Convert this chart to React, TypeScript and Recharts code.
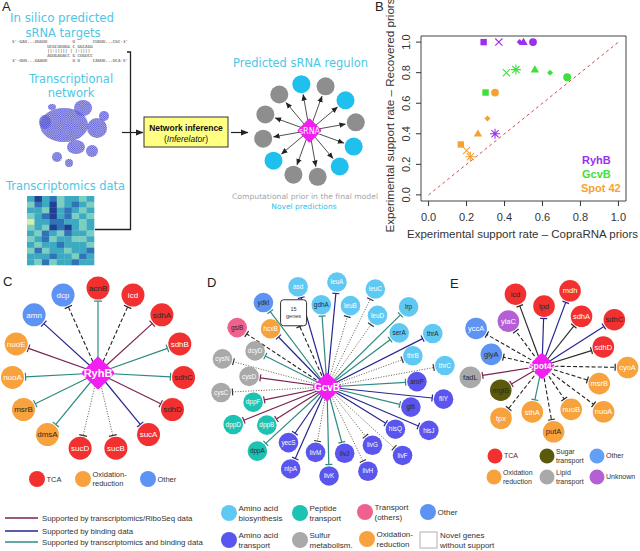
import { ScatterChart, Scatter, XAxis, YAxis, ReferenceLine, ReferenceArea, Label } from "recharts";

const SANS = "'Liberation Sans', Arial, Helvetica, sans-serif";
const DEJAVU = "'DejaVu Sans', sans-serif";
const MONO = "'DejaVu Sans Mono', monospace";

// ---------- panel B: experimental support rates ----------
const methods = ["square", "cross", "diamond", "triangle", "circle", "asterisk"];
const ryhbCopra = [0.29, 0.37, 0.48, 0.5, 0.55, 0.35];
const ryhbRecovered = [1.0, 1.0, 1.0, 1.0, 1.0, 0.4];
const gcvbCopra = [0.3, 0.41, 0.64, 0.56, 0.73, 0.46];
const gcvbRecovered = [0.67, 0.8, 0.8, 0.82, 0.77, 0.82];
const spot42Copra = [0.17, 0.2, 0.31, 0.26, 0.35, 0.22];
const spot42Recovered = [0.33, 0.29, 0.5, 0.4, 0.67, 0.25];
const axisTicks = [0, 0.2, 0.4, 0.6, 0.8, 1.0];

// ---------- panel C: RyhB regulon ----------
const ryhbTargets = ["acnB", "icd", "sdhA", "sdhB", "sdhC", "sdhD", "sucA", "sucB", "sucD", "dmsA", "msrB", "nuoA", "nuoE", "amn", "dcp"];
const ryhbClasses = ["tca", "tca", "tca", "tca", "tca", "tca", "tca", "tca", "tca", "redox", "redox", "redox", "redox", "other", "other"];
const ryhbEvidence = ["both", "novel", "rna", "both", "both", "rna", "bind", "prior", "prior", "both", "both", "both", "rna", "bind", "novel"];

// ---------- panel D: GcvB regulon ----------
const gcvbTargets = ["gdhA", "leuA", "leuB", "leuC", "leuD", "lrp", "serA", "thrA", "thrB", "thrC", "aroP", "fliY", "gltI", "hisJ", "hisQ", "livF", "livG", "livH", "livJ", "livK", "livM", "nlpA", "yecS", "dppA", "dppB", "dppD", "dppF", "cysC", "cysD", "cysN", "dcyD", "gsiB", "hcxB", "ydkI", "15 genes", "asd"];
const gcvbClasses = ["aaBio", "aaBio", "aaBio", "aaBio", "aaBio", "aaBio", "aaBio", "aaBio", "aaBio", "aaBio", "aaTr", "aaTr", "aaTr", "aaTr", "aaTr", "aaTr", "aaTr", "aaTr", "aaTr", "aaTr", "aaTr", "aaTr", "aaTr", "peptide", "peptide", "peptide", "peptide", "sulfur", "sulfur", "sulfur", "sulfur", "transport", "redox", "other", "box", "aaBio"];
const gcvbEvidence = ["both", "bind", "prior", "prior", "prior", "both", "both", "bind", "prior", "prior", "both", "bind", "both", "bind", "bind", "prior", "prior", "prior", "both", "both", "prior", "bind", "bind", "both", "rna", "rna", "rna", "prior", "rna", "prior", "both", "novel", "bind", "both", "novel", "bind"];

// ---------- panel E: Spot 42 regulon ----------
const spot42Targets = ["lpd", "mdh", "sdhA", "sdhC", "sdhD", "cyoA", "msrB", "nuoA", "nuoB", "putA", "sthA", "tpx", "mglB", "fadL", "glyA", "yccA", "ylaC", "icd"];
const spot42Classes = ["tca", "tca", "tca", "tca", "tca", "redox", "redox", "redox", "redox", "redox", "redox", "redox", "sugar", "lipid", "other", "other", "unknown", "tca"];
const spot42Evidence = ["bind", "bind", "direct", "bind", "direct", "novel", "novel", "novel", "novel", "novel", "both", "novel", "rna", "rna", "novel", "novel", "novel", "direct"];

// ---------- panel A ----------
const regulonKinds = ["novel", "prior", "novel", "prior", "novel", "novel", "prior", "prior", "novel", "prior", "prior", "prior"];
const alignment = [
  "5'-GAU...UGGUU          U       CUGUU...CGC-3'",
  "              UCGCUUUGG C GGCAGG",
  "              ||:||||| | |:||||",
  "              AGUGAUACC G CUGUCC",
  "3'-UUU...GAAUU          U U     CAUUU...UCA-5'",
];
const expression = [
  [2, 0, 2, 1, 3, 2, 2, 3, 2],
  [3, 1, 2, 0, 3, 2, 1, 2, 3],
  [2, 2, 3, 0, 2, 1, 2, 3, 2],
  [3, 2, 1, 0, 2, 1, 3, 2, 3],
  [4, 2, 2, 1, 1, 2, 2, 3, 2],
  [3, 2, 3, 0, 1, 0, 2, 3, 2],
  [2, 3, 1, 2, 3, 1, 2, 2, 3],
  [3, 2, 1, 3, 2, 2, 3, 3, 2],
  [2, 3, 2, 2, 1, 2, 2, 2, 3],
  [3, 1, 3, 2, 2, 3, 2, 2, 1],
  [2, 2, 2, 1, 2, 2, 3, 1, 2],
  [2, 3, 1, 3, 2, 2, 1, 2, 2],
];

const HEAT = ["#213f95", "#3173b8", "#3daac2", "#7ccfc0", "#d6ecac"];

const CLASS_COLORS: Record<string, string> = {
  tca: "#f1302f",
  redox: "#f7a23c",
  other: "#5d93f2",
  aaBio: "#5fc9f3",
  aaTr: "#5a55ee",
  peptide: "#1cc3b3",
  transport: "#f0628e",
  sulfur: "#a9a9a9",
  sugar: "#5a590c",
  lipid: "#a9a9a9",
  unknown: "#b45fd5",
  box: "#ffffff",
};

const EDGE_STYLE: Record<string, { stroke: string; dash?: string; width: number }> = {
  rna: { stroke: "#7a2352", width: 1.2 },
  bind: { stroke: "#26268f", width: 1.2 },
  both: { stroke: "#2e8a80", width: 1.2 },
  direct: { stroke: "#2b2b2b", width: 1.2 },
  novel: { stroke: "#222222", dash: "4 2.2", width: 1.1 },
  prior: { stroke: "#6e6a5a", dash: "1.1 1.5", width: 1 },
};

const DARK_LABELS = new Set([
  "C:acnB", "C:sdhA", "C:sdhC", "C:sdhD", "C:msrB", "C:dmsA",
  "D:gdhA", "D:serA", "D:lrp", "D:thrA", "D:aroP", "D:gltI", "D:livJ", "D:dppA", "D:gsiB", "D:ydkI",
  "E:icd", "E:lpd", "E:sdhC", "E:glyA", "E:fadL", "E:mglB", "E:putA",
]);

const PURPLE = "#9b30ee";
const GREEN = "#3ee03a";
const ORANGE = "#f6a233";

const SERIES = [
  { name: "RyhB", color: PURPLE, xs: ryhbCopra, ys: ryhbRecovered },
  { name: "GcvB", color: GREEN, xs: gcvbCopra, ys: gcvbRecovered },
  { name: "Spot 42", color: ORANGE, xs: spot42Copra, ys: spot42Recovered },
];

function Marker({ cx, cy, method, color }: { cx?: number; cy?: number; method: string; color: string }) {
  if (typeof cx !== "number" || typeof cy !== "number") return null;
  switch (method) {
    case "square":
      return <rect x={cx - 3.2} y={cy - 3.2} width={6.4} height={6.4} fill={color} />;
    case "circle":
      return <circle cx={cx} cy={cy} r={3.9} fill={color} />;
    case "triangle":
      return <polygon points={`${cx},${cy - 4.4} ${cx + 4.2},${cy + 2.8} ${cx - 4.2},${cy + 2.8}`} fill={color} />;
    case "diamond":
      return <polygon points={`${cx},${cy - 3} ${cx + 3},${cy} ${cx},${cy + 3} ${cx - 3},${cy}`} fill={color} />;
    case "cross":
      return (
        <path d={`M${cx - 3.6},${cy - 3.6}L${cx + 3.6},${cy + 3.6}M${cx - 3.6},${cy + 3.6}L${cx + 3.6},${cy - 3.6}`} stroke={color} strokeWidth={1.1} />
      );
    default:
      return (
        <path
          d={`M${cx - 3.6},${cy - 3.6}L${cx + 3.6},${cy + 3.6}M${cx - 3.6},${cy + 3.6}L${cx + 3.6},${cy - 3.6}M${cx - 5},${cy}L${cx + 5},${cy}M${cx},${cy - 5}L${cx},${cy + 5}`}
          stroke={color}
          strokeWidth={1.1}
        />
      );
  }
}

function YTick(props: any) {
  const { x, y, payload } = props;
  return (
    <text x={x} y={y} transform={`rotate(-90 ${x} ${y})`} textAnchor="middle" fontSize={11} fill="#333" fontFamily={SANS}>
      {Number(payload.value).toFixed(1)}
    </text>
  );
}

function XTitle(props: any) {
  const vb = props.viewBox;
  return (
    <text x={vb.x + vb.width / 2 - 1} y={vb.y + 37} textAnchor="middle" fontSize={10.5} fill="#333" fontFamily={SANS} textLength={231} lengthAdjust="spacingAndGlyphs">
      Experimental support rate – CopraRNA priors
    </text>
  );
}

function YTitle(props: any) {
  const vb = props.viewBox;
  const x = 14;
  const y = vb.y + vb.height / 2 - 3;
  return (
    <text x={x} y={y} transform={`rotate(-90 ${x} ${y})`} textAnchor="middle" fontSize={10.5} fill="#333" fontFamily={SANS} textLength={234} lengthAdjust="spacingAndGlyphs">
      Experimental support rate – Recovered priors
    </text>
  );
}

function SupportChart() {
  return (
    <ScatterChart width={260} height={245} margin={{ top: 36, right: 14, bottom: 0, left: 0 }}>
      <XAxis
        type="number"
        dataKey="x"
        domain={[-0.04, 1.04]}
        ticks={axisTicks}
        interval={0}
        allowDataOverflow
        axisLine={false}
        tickLine={{ stroke: "#333" }}
        tickSize={5}
        tickMargin={7}
        height={44}
        tick={{ fill: "#333", fontSize: 11, fontFamily: SANS }}
        tickFormatter={(v: number) => v.toFixed(1)}
      >
        <Label content={XTitle} />
      </XAxis>
      <YAxis
        type="number"
        dataKey="y"
        domain={[-0.04, 1.04]}
        ticks={axisTicks}
        interval={0}
        allowDataOverflow
        axisLine={false}
        tickLine={{ stroke: "#333" }}
        tickSize={5}
        tickMargin={6}
        width={41}
        tick={<YTick />}
      >
        <Label content={YTitle} />
      </YAxis>
      <ReferenceArea x1={-0.04} x2={1.04} y1={-0.04} y2={1.04} fill="none" fillOpacity={0} stroke="#444" strokeWidth={1} />
      <ReferenceLine segment={[{ x: 0, y: 0 }, { x: 1, y: 1 }]} stroke="#d0484a" strokeDasharray="3 3" strokeWidth={1} />
      {SERIES.map((s) => (
        <Scatter
          key={s.name}
          name={s.name}
          data={s.xs.map((x, i) => ({ x, y: s.ys[i], method: methods[i] }))}
          fill={s.color}
          isAnimationActive={false}
          shape={(p: any) => <Marker cx={p.cx} cy={p.cy} method={p.payload.method} color={s.color} />}
        />
      ))}
    </ScatterChart>
  );
}

type NetProps = {
  tag: string;
  names: string[];
  classes: string[];
  evidence: string[];
  hub: [number, number];
  hubLabel: string;
  hubHalf: number;
  hubFont: number;
  center: [number, number];
  inner: [number, number];
  outer: [number, number];
  start: number;
  nodeR: number;
  font: number;
  bar: number;
};

function Network(p: NetProps) {
  const n = p.names.length;
  const nodes = p.names.map((name, i) => {
    const a = ((p.start + (i * 360) / n) * Math.PI) / 180;
    const [rx, ry] = i % 2 === 0 ? p.inner : p.outer;
    return { name, cls: p.classes[i], ev: p.evidence[i], x: p.center[0] + rx * Math.sin(a), y: p.center[1] - ry * Math.cos(a) };
  });
  const [hx, hy] = p.hub;
  return (
    <g>
      {nodes.map((d) => {
        const dx = d.x - hx;
        const dy = d.y - hy;
        const len = Math.hypot(dx, dy);
        const ux = dx / len;
        const uy = dy / len;
        const gap = d.cls === "box" ? 15 : p.nodeR + 1.6;
        const ex = d.x - ux * gap;
        const ey = d.y - uy * gap;
        const st = EDGE_STYLE[d.ev];
        const b = p.bar / 2;
        return (
          <g key={`e-${d.name}`}>
            <line x1={hx} y1={hy} x2={ex} y2={ey} stroke={st.stroke} strokeWidth={st.width} strokeDasharray={st.dash} />
            <line x1={ex - uy * b} y1={ey + ux * b} x2={ex + uy * b} y2={ey - ux * b} stroke={d.ev === "prior" ? "#333" : st.stroke} strokeWidth={1.2} />
          </g>
        );
      })}
      {nodes.map((d) =>
        d.cls === "box" ? (
          <g key={`n-${d.name}`}>
            <rect x={d.x - 13} y={d.y - 13} width={26} height={26} rx={3} fill="#fff" stroke="#333" strokeWidth={1} />
            <text x={d.x} y={d.y - 2} textAnchor="middle" fontSize={5.5} fontFamily={SANS} fill="#333">
              15
            </text>
            <text x={d.x} y={d.y + 5} textAnchor="middle" fontSize={5.5} fontFamily={SANS} fill="#333">
              genes
            </text>
          </g>
        ) : (
          <g key={`n-${d.name}`}>
            <circle cx={d.x} cy={d.y} r={p.nodeR} fill={CLASS_COLORS[d.cls]} />
            <text
              x={d.x}
              y={d.y + p.font * 0.35}
              textAnchor="middle"
              fontSize={p.font}
              fontFamily={SANS}
              fill={DARK_LABELS.has(`${p.tag}:${d.name}`) ? "#2a2a2a" : "#ffffff"}
            >
              {d.name}
            </text>
          </g>
        )
      )}
      <rect
        x={hx - p.hubHalf}
        y={hy - p.hubHalf}
        width={p.hubHalf * 2}
        height={p.hubHalf * 2}
        rx={2}
        fill="#f21ef2"
        transform={`rotate(45 ${hx} ${hy})`}
      />
      <text x={hx} y={hy + p.hubFont * 0.36} textAnchor="middle" fontSize={p.hubFont} fontWeight="bold" fontFamily={SANS} fill="#fff">
        {p.hubLabel}
      </text>
    </g>
  );
}

function Regulon() {
  const cx = 309.5;
  const cy = 130.5;
  const n = regulonKinds.length;
  return (
    <g>
      {regulonKinds.map((k, i) => {
        const a = ((-10 + (i * 360) / n) * Math.PI) / 180;
        const x = cx + 47 * Math.sin(a);
        const y = cy - 47 * Math.cos(a);
        const ex = cx + 36.5 * Math.sin(a);
        const ey = cy - 36.5 * Math.cos(a);
        return (
          <g key={i}>
            <line x1={cx} y1={cy} x2={ex} y2={ey} stroke="#222" strokeWidth={0.8} markerEnd="url(#arrowSmall)" />
            <circle cx={x} cy={y} r={9} fill={k === "novel" ? "#1fc0ee" : "#8e8e8e"} />
          </g>
        );
      })}
      <rect x={cx - 8.8} y={cy - 8.8} width={17.6} height={17.6} rx={1.5} fill="#f21ef2" transform={`rotate(45 ${cx} ${cy})`} />
      <text x={cx} y={cy + 3} textAnchor="middle" fontSize={8} fontFamily={DEJAVU} fill="#fff">
        sRNA
      </text>
    </g>
  );
}

function NetworkBlob() {
  const blobs = [
    [64, 125, 24, 17],
    [83, 108, 9, 8],
    [97, 128, 10, 10],
    [76, 147, 9, 7],
    [92, 151, 6, 6],
    [104, 116, 5, 5],
    [57, 157, 5, 5],
    [69, 163, 4, 4],
    [45, 122, 6, 7],
    [52, 107, 4, 3],
  ];
  return (
    <g>
      {blobs.map(([x, y, rx, ry], i) => (
        <g key={i}>
          <ellipse cx={x} cy={y} rx={rx} ry={ry} fill="#9d9de8" opacity={0.6} />
          <ellipse cx={x} cy={y} rx={rx} ry={ry} fill="url(#dots)" />
        </g>
      ))}
    </g>
  );
}

function Heatmap() {
  const x0 = 27;
  const y0 = 196;
  const cw = 67 / expression[0].length;
  const ch = 69 / expression.length;
  return (
    <g>
      {expression.map((row, r) =>
        row.map((v, c) => <rect key={`${r}-${c}`} x={x0 + c * cw} y={y0 + r * ch} width={cw + 0.3} height={ch + 0.3} fill={HEAT[v]} />)
      )}
    </g>
  );
}

function LegendDot({ x, y, r, color, lines, font }: { x: number; y: number; r: number; color: string; lines: string[]; font: number }) {
  const tx = x + r + 1.5;
  const step = font * 1.25;
  const top = y + font * 0.35 - ((lines.length - 1) * step) / 2;
  return (
    <g>
      <circle cx={x} cy={y} r={r} fill={color} />
      {lines.map((l, i) => (
        <text key={i} x={tx} y={top + i * step} fontSize={font} fontFamily={SANS} fill="#333">
          {l}
        </text>
      ))}
    </g>
  );
}

function Overlay() {
  const cyan = "#4ec6e6";
  return (
    <svg width={640} height={551} style={{ position: "absolute", left: 0, top: 0, pointerEvents: "none" }}>
      <defs>
        <pattern id="dots" width={2.2} height={2.2} patternUnits="userSpaceOnUse">
          <circle cx={1.1} cy={1.1} r={0.75} fill="none" stroke="#2f2fc8" strokeWidth={0.55} />
        </pattern>
        <marker id="arrowSmall" markerWidth={7} markerHeight={7} refX={6} refY={3.5} orient="auto" markerUnits="userSpaceOnUse">
          <path d="M0,0.8 L6.5,3.5 L0,6.2 z" fill="#222" />
        </marker>
        <marker id="arrowBig" markerWidth={8} markerHeight={8} refX={7} refY={4} orient="auto" markerUnits="userSpaceOnUse">
          <path d="M0,1 L7.5,4 L0,7 z" fill="#222" />
        </marker>
      </defs>

      {/* panel letters */}
      <g fontFamily={SANS} fontSize={13} fill="#222">
        <text x={2} y={11}>A</text>
        <text x={375} y={11}>B</text>
        <text x={3} y={286}>C</text>
        <text x={207} y={287}>D</text>
        <text x={450} y={288}>E</text>
      </g>

      {/* panel A */}
      <g fontFamily={DEJAVU} fill={cyan} fontSize={11.5}>
        <text x={10} y={22} textLength={104} lengthAdjust="spacingAndGlyphs">In silico  predicted</text>
        <text x={63} y={37} textAnchor="middle">sRNA targets</text>
        <text x={71} y={83} textAnchor="middle">Transcriptional</text>
        <text x={71} y={97} textAnchor="middle">network</text>
        <text x={6} y={190} textLength={119} lengthAdjust="spacingAndGlyphs">Transcriptomics data</text>
        <text x={233} y={67} textLength={135} lengthAdjust="spacingAndGlyphs">Predicted sRNA regulon</text>
      </g>
      <g fontFamily={MONO} fontSize={4.2} fill="#333">
        {alignment.map((l, i) => (
          <text key={i} x={12} y={[43, 47.8, 52.2, 56.6, 62][i]} style={{ whiteSpace: "pre" }}>
            {l}
          </text>
        ))}
      </g>
      <NetworkBlob />
      <Heatmap />
      <path d="M127,52 H130.5 V229.5 H95" fill="none" stroke="#222" strokeWidth={1.3} />
      <line x1={122} y1={132.5} x2={143} y2={132.5} stroke="#222" strokeWidth={1.2} markerEnd="url(#arrowBig)" />
      <rect x={144} y={117} width={84} height={30} fill="#ffff82" stroke="#333" strokeWidth={1} />
      <text x={186} y={131} textAnchor="middle" fontSize={8.5} fontWeight="bold" fontFamily={SANS} fill="#111">
        Network inference
      </text>
      <text x={186} y={142} textAnchor="middle" fontSize={8.5} fontFamily={SANS} fill="#111">
        (<tspan fontStyle="italic">Inferelator</tspan>)
      </text>
      <line x1={231} y1={132.5} x2={248} y2={132.5} stroke="#222" strokeWidth={1.2} markerEnd="url(#arrowBig)" />
      <Regulon />
      <text x={305} y={199} textAnchor="middle" fontSize={7.5} fontFamily={DEJAVU} fill="#a5a5a5" textLength={146} lengthAdjust="spacingAndGlyphs">
        Computational prior in the final model
      </text>
      <text x={304} y={209} textAnchor="middle" fontSize={7.5} fontFamily={DEJAVU} fill="#2fbfe8">
        Novel predictions
      </text>

      {/* panel B legend */}
      <g fontFamily={SANS} fontWeight="bold" fontSize={11}>
        <text x={582} y={164} fill={PURPLE}>RyhB</text>
        <text x={582} y={178} fill={GREEN}>GcvB</text>
        <text x={581} y={192} fill={ORANGE}>Spot 42</text>
      </g>

      {/* panel C */}
      <Network
        tag="C"
        names={ryhbTargets}
        classes={ryhbClasses}
        evidence={ryhbEvidence}
        hub={[98, 373]}
        hubLabel="RyhB"
        hubHalf={12}
        hubFont={11}
        center={[98, 369]}
        inner={[86, 81]}
        outer={[86, 81]}
        start={0}
        nodeR={11.5}
        font={8}
        bar={8}
      />
      <LegendDot x={37} y={479} r={8} color={CLASS_COLORS.tca} lines={["TCA"]} font={7.5} />
      <LegendDot x={83} y={479} r={8} color={CLASS_COLORS.redox} lines={["Oxidation-", "reduction"]} font={7.5} />
      <LegendDot x={148} y={479} r={8} color={CLASS_COLORS.other} lines={["Other"]} font={7.5} />

      {/* panel D */}
      <Network
        tag="D"
        names={gcvbTargets}
        classes={gcvbClasses}
        evidence={gcvbEvidence}
        hub={[327, 387]}
        hubLabel="GcvB"
        hubHalf={10.6}
        hubFont={10}
        center={[333, 379]}
        inner={[84, 75]}
        outer={[113, 97]}
        start={-8}
        nodeR={9.8}
        font={6.4}
        bar={7}
      />

      {/* panel E */}
      <Network
        tag="E"
        names={spot42Targets}
        classes={spot42Classes}
        evidence={spot42Evidence}
        hub={[542, 366]}
        hubLabel="Spot42"
        hubHalf={9.6}
        hubFont={8.5}
        center={[548, 360]}
        inner={[57, 54]}
        outer={[80, 72]}
        start={-4}
        nodeR={10.8}
        font={7.5}
        bar={7}
      />
      <LegendDot x={495} y={456} r={7.5} color={CLASS_COLORS.tca} lines={["TCA"]} font={7} />
      <LegendDot x={547} y={456} r={7.5} color={CLASS_COLORS.sugar} lines={["Sugar", "transport"]} font={7} />
      <LegendDot x={597} y={456} r={7.5} color="#62a0f6" lines={["Other"]} font={7} />
      <LegendDot x={494} y={477} r={7.5} color={CLASS_COLORS.redox} lines={["Oxidation", "reduction"]} font={7} />
      <LegendDot x={547} y={477} r={7.5} color={CLASS_COLORS.lipid} lines={["Lipid", "transport"]} font={7} />
      <LegendDot x={597} y={477} r={7.5} color={CLASS_COLORS.unknown} lines={["Unknown"]} font={7} />

      {/* bottom legend */}
      {(["rna", "bind", "both"] as const).map((k, i) => (
        <g key={k}>
          <line x1={5} x2={38} y1={[518, 531, 542][i]} y2={[518, 531, 542][i]} stroke={EDGE_STYLE[k].stroke} strokeWidth={1.3} />
          <text x={42} y={[518, 531, 542][i] + 3} fontSize={7.8} fontFamily={SANS} fill="#333">
            {["Supported by transcriptomics/RiboSeq data", "Supported by binding data", "Supported by transcriptomics and binding data"][i]}
          </text>
        </g>
      ))}
      <LegendDot x={229} y={513} r={8} color={CLASS_COLORS.aaBio} lines={["Amino acid", "biosynthesis"]} font={8} />
      <LegendDot x={300} y={513} r={8} color={CLASS_COLORS.peptide} lines={["Peptide", "transport"]} font={8} />
      <LegendDot x={365} y={512} r={8} color={CLASS_COLORS.transport} lines={["Transport", "(others)"]} font={8} />
      <LegendDot x={428} y={512} r={8} color={CLASS_COLORS.other} lines={["Other"]} font={8} />
      <LegendDot x={229} y={540} r={8} color={CLASS_COLORS.aaTr} lines={["Amino acid", "transport"]} font={8} />
      <LegendDot x={300} y={540} r={8} color={CLASS_COLORS.sulfur} lines={["Sulfur", "metabolism."]} font={8} />
      <LegendDot x={367} y={539} r={8} color={CLASS_COLORS.redox} lines={["Oxidation-", "reduction"]} font={8} />
      <rect x={420} y={532} width={17} height={16} fill="#fff" stroke="#b0b0b0" strokeWidth={1} />
      <text x={440} y={538} fontSize={8} fontFamily={SANS} fill="#333">Novel genes</text>
      <text x={440} y={548} fontSize={8} fontFamily={SANS} fill="#333">without support</text>
    </svg>
  );
}

export default function App() {
  return (
    <div style={{ position: "fixed", left: 0, top: 0, width: 640, height: 551, background: "#fff", overflow: "hidden" }}>
      <div style={{ position: "absolute", left: 380, top: 0 }}>
        <SupportChart />
      </div>
      <Overlay />
    </div>
  );
}
